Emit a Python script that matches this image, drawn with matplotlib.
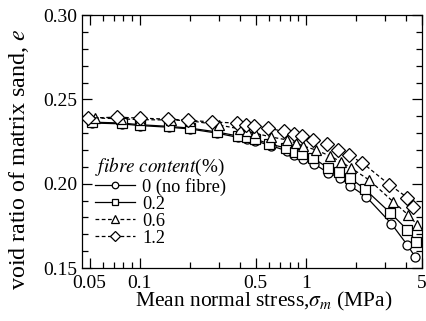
import matplotlib
matplotlib.use('Agg')
import matplotlib.pyplot as plt
from matplotlib.ticker import LogLocator, FixedLocator, MultipleLocator, NullFormatter
import numpy as np

plt.rcParams['font.family'] = ['Liberation Serif', 'DejaVu Serif']
plt.rcParams['mathtext.fontset'] = 'stix'

# 0 % (no fibre)
p0 = [0.052, 0.078, 0.1, 0.15, 0.2, 0.292, 0.39, 0.443, 0.495, 0.618, 0.771,
      0.85, 0.963, 1.122, 1.363, 1.61, 1.85, 2.31, 3.27, 4.09, 4.57]
e0 = [0.2360, 0.2355, 0.2345, 0.2335, 0.2325, 0.2300, 0.2275, 0.2265, 0.2255, 0.2225, 0.2195,
      0.2172, 0.2147, 0.2118, 0.2065, 0.2035, 0.1988, 0.1923, 0.1764, 0.1636, 0.1564]
# 0.2 %
p2 = [0.052, 0.078, 0.1, 0.15, 0.2, 0.292, 0.39, 0.443, 0.495, 0.601, 0.76,
      0.862, 0.95, 1.107, 1.363, 1.588, 1.85, 2.28, 3.23, 4.09, 4.63]
e2 = [0.2365, 0.2360, 0.2350, 0.2340, 0.2330, 0.2307, 0.2283, 0.2275, 0.2266, 0.2236, 0.2212,
      0.2188, 0.2177, 0.2153, 0.2093, 0.2070, 0.2034, 0.1966, 0.1827, 0.1726, 0.1655]
# 0.6 %
p6 = [0.054, 0.077, 0.1, 0.154, 0.2, 0.30, 0.402, 0.443, 0.495, 0.618, 0.771,
      0.874, 0.963, 1.153, 1.402, 1.634, 1.876, 2.41, 3.37, 4.14, 4.70]
e6 = [0.2390, 0.2385, 0.2380, 0.2378, 0.2374, 0.2348, 0.2325, 0.2312, 0.2300, 0.2277, 0.2260,
      0.2241, 0.2224, 0.2200, 0.2164, 0.2129, 0.2093, 0.2022, 0.1892, 0.1815, 0.1756]
# 1.2 %
p12 = [0.0486, 0.0736, 0.1, 0.148, 0.195, 0.272, 0.385, 0.436, 0.488, 0.592, 0.739,
       0.849, 0.95, 1.107, 1.345, 1.568, 1.826, 2.19, 3.18, 4.09, 4.44]
e12 = [0.2389, 0.2395, 0.2389, 0.2383, 0.2377, 0.2366, 0.2360, 0.2350, 0.2342, 0.2330, 0.2310,
       0.2297, 0.2283, 0.2262, 0.2233, 0.2200, 0.2168, 0.2124, 0.1995, 0.1918, 0.1863]

fig = plt.figure(figsize=(4.27, 3.21), dpi=100)
ax = fig.add_axes([0.192, 0.165, 0.796, 0.788])

mk = dict(mfc='white', mec='black', mew=0.9, color='black', lw=0.9)
ax.plot(p0, e0, '-', marker='o', ms=6.5, label='0 (no fibre)', **mk)
ax.plot(p2, e2, '-', marker='s', ms=6.5, label='0.2', **mk)
ax.plot(p6, e6, '--', marker='^', ms=7.5, dashes=(3, 2), label='0.6', **mk)
ax.plot(p12, e12, '--', marker='D', ms=7.2, dashes=(3, 2), label='1.2', **mk)

ax.set_xscale('log')
ax.set_xlim(0.045, 5)
ax.set_ylim(0.15, 0.30)
ax.xaxis.set_major_locator(FixedLocator([0.05, 0.1, 0.5, 1, 5]))
ax.set_xticklabels(['0.05', '0.1', '0.5', '1', '5'])
ax.xaxis.set_minor_locator(LogLocator(base=10, subs=np.arange(2, 10)))
ax.xaxis.set_minor_formatter(NullFormatter())
ax.yaxis.set_major_locator(MultipleLocator(0.05))
ax.yaxis.set_minor_locator(MultipleLocator(0.01))
ax.yaxis.set_major_formatter(plt.FormatStrFormatter('%.2f'))
ax.tick_params(which='both', direction='in', top=True, right=True, labelsize=14, width=0.9)
ax.tick_params(which='major', length=7)
ax.tick_params(which='minor', length=4)
ax.tick_params(axis='x', pad=5)
for s in ax.spines.values():
    s.set_linewidth(0.9)

ax.set_xlabel('Mean normal stress,$\\sigma_m$ (MPa)', fontsize=15.5)
ax.set_ylabel('void ratio of matrix sand, $e$', fontsize=17.3)
ax.xaxis.set_label_coords(0.534, -0.088)
ax.yaxis.set_label_coords(-0.15, 0.43)

leg = ax.legend(title='$\\mathit{fibre\\ content}$(%)', loc='upper left',
                bbox_to_anchor=(0.037, 0.445), frameon=False, fontsize=13.2,
                title_fontsize=13.8, handlelength=2.2, handletextpad=0.4,
                labelspacing=0.0, markerscale=0.72, borderaxespad=0.0,
                borderpad=0.0)
leg._legend_box.align = 'left'
leg._legend_box.sep = 0

fig.savefig('out.png', dpi=100)
